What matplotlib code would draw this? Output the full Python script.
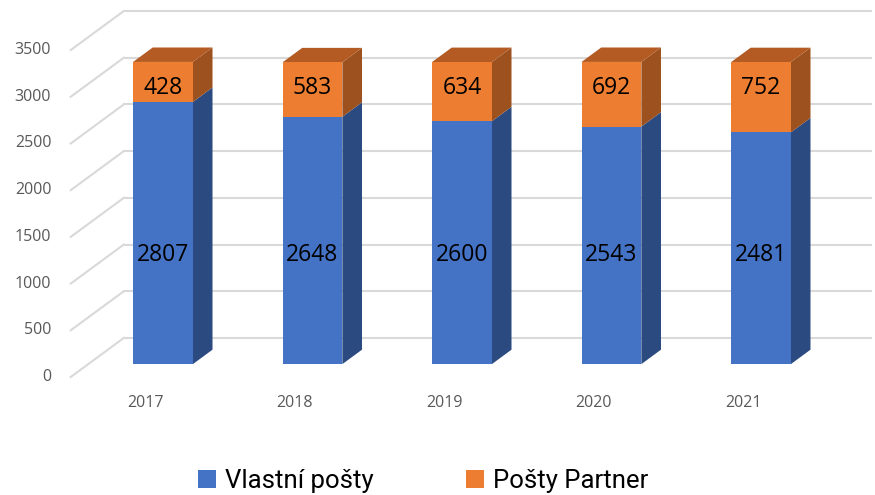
import matplotlib.pyplot as plt
from matplotlib.patches import Polygon, Patch
from matplotlib import font_manager

# --- DATA ---
roky = ["2017", "2018", "2019", "2020", "2021"]
vlastni_posty = [2807, 2648, 2600, 2543, 2481]
posty_partner = [428, 583, 634, 692, 752]
osa_y = [0, 500, 1000, 1500, 2000, 2500, 3000, 3500]

# --- STYL ---
MODRA = "#4472C4"
MODRA_BOK = "#2B4A80"
MODRA_VRCH = "#34589A"
ORANZ = "#ED7D31"
ORANZ_BOK = "#9C511E"
ORANZ_VRCH = "#B35B22"
MRIZKA = "#D9D9D9"
SEDA = "#595959"

# pseudo 3D (sikma projekce): hloubka 0 = predni rovina, 1 = zadni stena
HL_X = 0.355      # posun v ose x pro plnou hloubku (jednotky kategorii)
HL_Y = 418        # posun v ose y pro plnou hloubku (jednotky hodnot)
D0, D1 = 0.33, 0.70   # hloubka sloupce
SIRKA = 0.40

nazvy = [f.name for f in font_manager.fontManager.ttflist]
uzky = "Liberation Sans Narrow" if "Liberation Sans Narrow" in nazvy else "Roboto"
plt.rcParams["font.family"] = ["Open Sans", "DejaVu Sans"]


def bod(x, v, d):
    return (x + d * HL_X, v + d * HL_Y)


fig = plt.figure(figsize=(8.75, 4.95), dpi=100)
ax = fig.add_axes([0, 0, 1, 1])
ax.set_axis_off()
ax.set_xlim(-0.973, 4.880)
ax.set_ylim(-1263, 4036)

n = len(roky)
x_lev = -0.5
x_prav = n - 0.5

# mrizka: zadni stena + leva stena
for v in osa_y:
    x0, y0 = bod(x_lev, v, 1)
    x1, y1 = bod(x_prav, v, 1)
    ax.plot([x0, x1], [y0, y1], color=MRIZKA, lw=1.5, zorder=1)
    xa, ya = bod(x_lev, v, 0)
    ax.plot([xa, x0], [ya, y0], color=MRIZKA, lw=1.5, zorder=1)
    ax.annotate(str(v), (xa, ya), xytext=(-14, 0), textcoords="offset points",
                ha="right", va="center", fontsize=11.5, color=SEDA)


def kvadr(i, spodek, vrsek, barva, bok, vrch, zobraz_vrch):
    l, p = i - SIRKA / 2, i + SIRKA / 2
    # bok
    ax.add_patch(Polygon([bod(p, spodek, D0), bod(p, spodek, D1),
                          bod(p, vrsek, D1), bod(p, vrsek, D0)],
                         closed=True, fc=bok, ec="none", zorder=2))
    if zobraz_vrch:
        ax.add_patch(Polygon([bod(l, vrsek, D0), bod(p, vrsek, D0),
                              bod(p, vrsek, D1), bod(l, vrsek, D1)],
                             closed=True, fc=vrch, ec="none", zorder=2))
    ax.add_patch(Polygon([bod(l, spodek, D0), bod(p, spodek, D0),
                          bod(p, vrsek, D0), bod(l, vrsek, D0)],
                         closed=True, fc=barva, ec="none", zorder=3))


prumer_modra = sum(vlastni_posty) / n
prumer_celkem = sum(a + b for a, b in zip(vlastni_posty, posty_partner)) / n
prumer_oranz = sum(posty_partner) / n

for i in range(n):
    m = vlastni_posty[i]
    o = posty_partner[i]
    kvadr(i, 0, m, MODRA, MODRA_BOK, MODRA_VRCH, False)
    kvadr(i, m, m + o, ORANZ, ORANZ_BOK, ORANZ_VRCH, True)

    xs, ys = bod(i, prumer_modra / 2, D0)
    ax.text(xs, prumer_modra / 2, str(m), ha="center", va="center",
            fontsize=16.5, color="black", zorder=5)
    xs, ys = bod(i, prumer_celkem - prumer_oranz / 2, D0)
    ax.text(xs, ys + 35, str(o), ha="center", va="center",
            fontsize=16.5, color="black", zorder=5)

    ax.annotate(roky[i], (i, 0), xytext=(0, -19), textcoords="offset points",
                ha="center", va="center", fontsize=11.5, color=SEDA)

# legenda
handles = [Patch(facecolor=MODRA, label="Vlastní pošty"),
           Patch(facecolor=ORANZ, label="Pošty Partner")]
fig.legend(handles=handles, loc="lower center", bbox_to_anchor=(0.484, -0.042),
           ncol=2, frameon=False, prop={"family": [uzky, "DejaVu Sans"], "size": 18.5},
           handlelength=0.7, handleheight=0.7, handletextpad=0.35,
           columnspacing=3.6)

fig.savefig("out.png", dpi=100)
